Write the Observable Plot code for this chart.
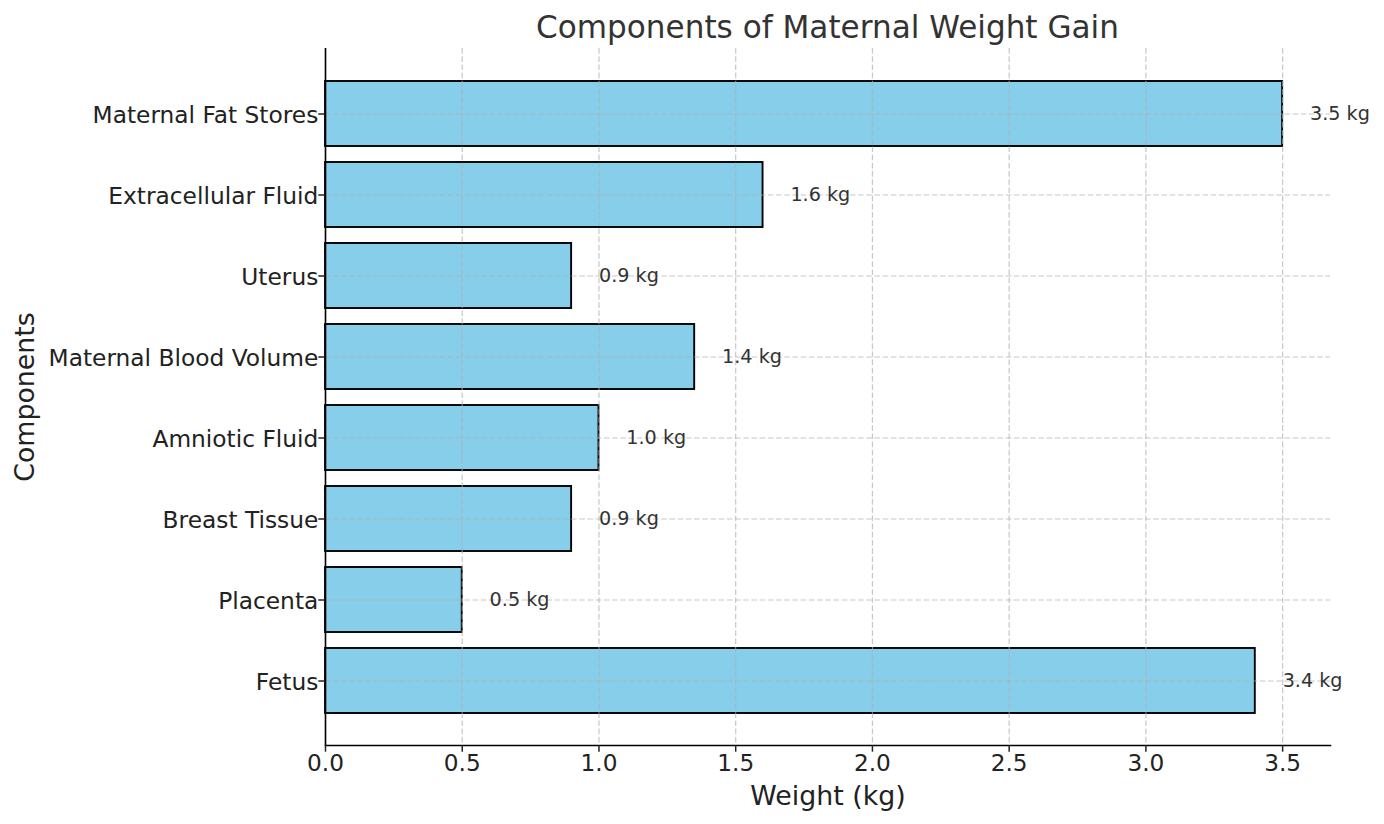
<!DOCTYPE html>
<html><head><meta charset="utf-8">
<script src="https://cdn.jsdelivr.net/npm/d3@7"></script>
<script src="https://cdn.jsdelivr.net/npm/@observablehq/plot@0.6"></script>
<style>
html,body{margin:0;padding:0;background:#fff;overflow:hidden;}
#title{height:44px;line-height:54px;box-sizing:border-box;padding-left:325px;padding-right:54px;text-align:center;font-family:"DejaVu Sans";font-size:31.1px;color:#333;white-space:nowrap;}
#chart svg{display:block;}
</style></head><body>
<div id="title">Components of Maternal Weight Gain</div>
<div id="chart"></div>
<script>
const components = ["Fetus","Placenta","Breast Tissue","Amniotic Fluid","Maternal Blood Volume","Uterus","Extracellular Fluid","Maternal Fat Stores"];
const weights = [3.4, 0.5, 0.9, 1.0, 1.35, 0.9, 1.6, 3.5];
const xTicks = [0, 0.5, 1.0, 1.5, 2.0, 2.5, 3.0, 3.5];
const xLabel = "Weight (kg)";
const yLabel = "Components";

const data = components.map((c, i) => ({component: c, weight: weights[i], label: weights[i].toFixed(1) + " kg"}));
const gridStyle = {stroke: "#b0b0b0", strokeOpacity: 0.7, strokeWidth: 1.2, strokeDasharray: "5.7,2.5"};

const chart = Plot.plot({
  width: 1384, height: 780,
  marginLeft: 325, marginRight: 54, marginTop: 4, marginBottom: 79,
  style: {fontFamily: "DejaVu Sans", background: "#fff", color: "#222"},
  x: {domain: [0, 3.675]},
  y: {domain: components.slice().reverse(), paddingInner: 0.2, paddingOuter: 0.39},
  marks: [
    Plot.barX(data, {x: "weight", y: "component", fill: "#87CEEB", stroke: "#000", strokeWidth: 1.9}),
    Plot.gridX(xTicks, gridStyle),
    Plot.gridY(gridStyle),
    Plot.text(data, {x: d => d.weight + 0.1, y: "component", text: "label", textAnchor: "start", fontSize: 19.2, fill: "#333", dy: -0.5}),
    Plot.ruleX([0], {stroke: "#000", strokeWidth: 1.6}),
    Plot.frame({anchor: "bottom", stroke: "#000", strokeWidth: 1.6}),
    Plot.axisX({ticks: xTicks, tickFormat: d => d.toFixed(1), tickSize: 6.7, tickPadding: 2.5, fontSize: 23.2, strokeWidth: 1.5, label: null}),
    Plot.axisY({tickSize: 6.7, fill: "none", strokeWidth: 1.5, label: null}),
    Plot.axisY({tickSize: 0, tickPadding: 7.2, fontSize: 23.3, label: null, dy: 1.5}),
    Plot.text([xLabel], {frameAnchor: "bottom", lineAnchor: "top", dy: 40, fontSize: 26.8, fill: "#222"}),
    Plot.text([yLabel], {frameAnchor: "left", rotate: -90, textAnchor: "middle", lineAnchor: "top", dx: -310.5, fontSize: 26.8, fill: "#222"})
  ]
});
document.getElementById("chart").append(chart);
</script>
</body></html>
